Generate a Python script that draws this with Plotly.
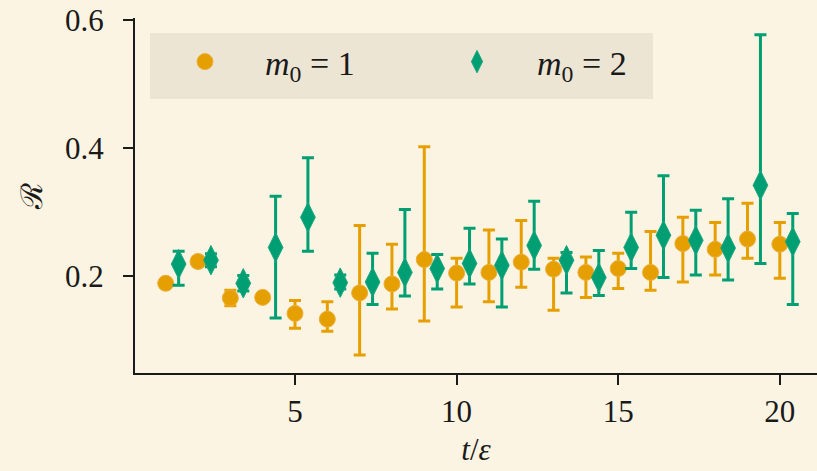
import plotly.graph_objects as go

# ---- data ----
t1 = list(range(1, 21))
r1 = [0.189, 0.223, 0.166, 0.167, 0.142, 0.133, 0.174, 0.188, 0.226, 0.205,
      0.206, 0.222, 0.211, 0.206, 0.212, 0.206, 0.251, 0.242, 0.258, 0.250]
r1_plus = [0.006, 0.006, 0.012, 0.005, 0.020, 0.027, 0.105, 0.062, 0.176, 0.023,
           0.066, 0.065, 0.017, 0.024, 0.024, 0.064, 0.041, 0.042, 0.056, 0.034]
r1_minus = [0.006, 0.006, 0.012, 0.005, 0.023, 0.019, 0.097, 0.039, 0.096, 0.053,
            0.046, 0.039, 0.064, 0.039, 0.031, 0.028, 0.060, 0.040, 0.030, 0.053]

t2 = [1.4, 2.4, 3.4, 4.4, 5.4, 6.4, 7.4, 8.4, 9.4, 10.4,
      11.4, 12.4, 13.4, 14.4, 15.4, 16.4, 17.4, 18.4, 19.4, 20.4]
r2 = [0.219, 0.225, 0.189, 0.245, 0.292, 0.190, 0.191, 0.206, 0.212, 0.220,
      0.217, 0.248, 0.225, 0.198, 0.245, 0.264, 0.256, 0.244, 0.342, 0.254]
r2_plus = [0.020, 0.010, 0.012, 0.080, 0.093, 0.012, 0.045, 0.098, 0.022, 0.055,
           0.041, 0.069, 0.012, 0.042, 0.055, 0.093, 0.047, 0.077, 0.235, 0.044]
r2_minus = [0.033, 0.010, 0.012, 0.110, 0.053, 0.010, 0.035, 0.037, 0.032, 0.032,
            0.065, 0.037, 0.051, 0.028, 0.033, 0.066, 0.054, 0.050, 0.122, 0.098]

xticks = [5, 10, 15, 20]
yticks = [0.2, 0.4, 0.6]

ORANGE = "#E69F00"
GREEN = "#009E73"
BG = "#fcf4e2"
FONT = "Liberation Serif"

W, H = 817, 471
ML, MR, MT, MB = 135, 0, 18, 98
PW = W - ML - MR
PH = H - MT - MB

fig = go.Figure()
fig.add_trace(go.Scatter(
    x=t1, y=r1, mode="markers", name="<i>m</i><sub>0</sub> = 1",
    marker=dict(symbol="circle", size=16, color=ORANGE,
                line=dict(width=1, color="#eab03a")),
    error_y=dict(type="data", symmetric=False, array=r1_plus, arrayminus=r1_minus,
                 color=ORANGE, thickness=3, width=6),
))
fig.add_trace(go.Scatter(
    x=t2, y=r2, mode="markers", name="<i>m</i><sub>0</sub> = 2",
    marker=dict(symbol="diamond-tall", size=21, color=GREEN,
                line=dict(width=1, color="#1aa67f")),
    error_y=dict(type="data", symmetric=False, array=r2_plus, arrayminus=r2_minus,
                 color=GREEN, thickness=3, width=6),
))

# legend background box (pixel positions relative to plot area top-left)
fig.add_shape(type="rect", xref="paper", yref="paper",
              x0=15 / PW, x1=518 / PW,
              y0=(PH - 81) / PH, y1=(PH - 15) / PH,
              fillcolor="#ede5d4", line=dict(width=0), layer="below")

fig.update_layout(
    width=W, height=H,
    margin=dict(l=ML, r=MR, t=MT, b=MB, autoexpand=False),
    paper_bgcolor=BG, plot_bgcolor=BG,
    font=dict(family=FONT, size=31, color="#1a1a1a"),
    showlegend=True,
    legend=dict(
        orientation="h", x=10 / PW, y=(PH - 15) / PH,
        xanchor="left", yanchor="top",
        bgcolor="rgba(0,0,0,0)", font=dict(family=FONT, size=34, color="#1a1a1a"),
        itemwidth=110, entrywidth=147, entrywidthmode="pixels",
    ),
    xaxis=dict(
        range=[0.05, 21.15], tickvals=xticks, ticktext=[str(v) for v in xticks],
        showgrid=False, zeroline=False, showline=True, linecolor="#1a1a1a", linewidth=2,
        ticks="outside", ticklen=10, tickwidth=2, tickcolor="#1a1a1a",
        title=dict(text="<i>t</i>/<i>ε</i>", standoff=10,
                   font=dict(family=FONT, size=31)),
        automargin=False,
    ),
    yaxis=dict(
        range=[0.049, 0.603], tickvals=yticks, ticktext=["0.2", "0.4", "0.6"],
        showgrid=False, zeroline=False, showline=True, linecolor="#1a1a1a", linewidth=2,
        ticks="outside", ticklen=10, tickwidth=2, tickcolor="#1a1a1a",
        ticklabelstandoff=13,
        title=dict(text="ℛ", standoff=14, font=dict(family="DejaVu Serif", size=30)),
        automargin=False,
    ),
)

fig.write_html(
    "out.html",
    config={"displayModeBar": False},
    post_script="document.body.style.margin='0';document.body.style.background='%s';" % BG,
)
